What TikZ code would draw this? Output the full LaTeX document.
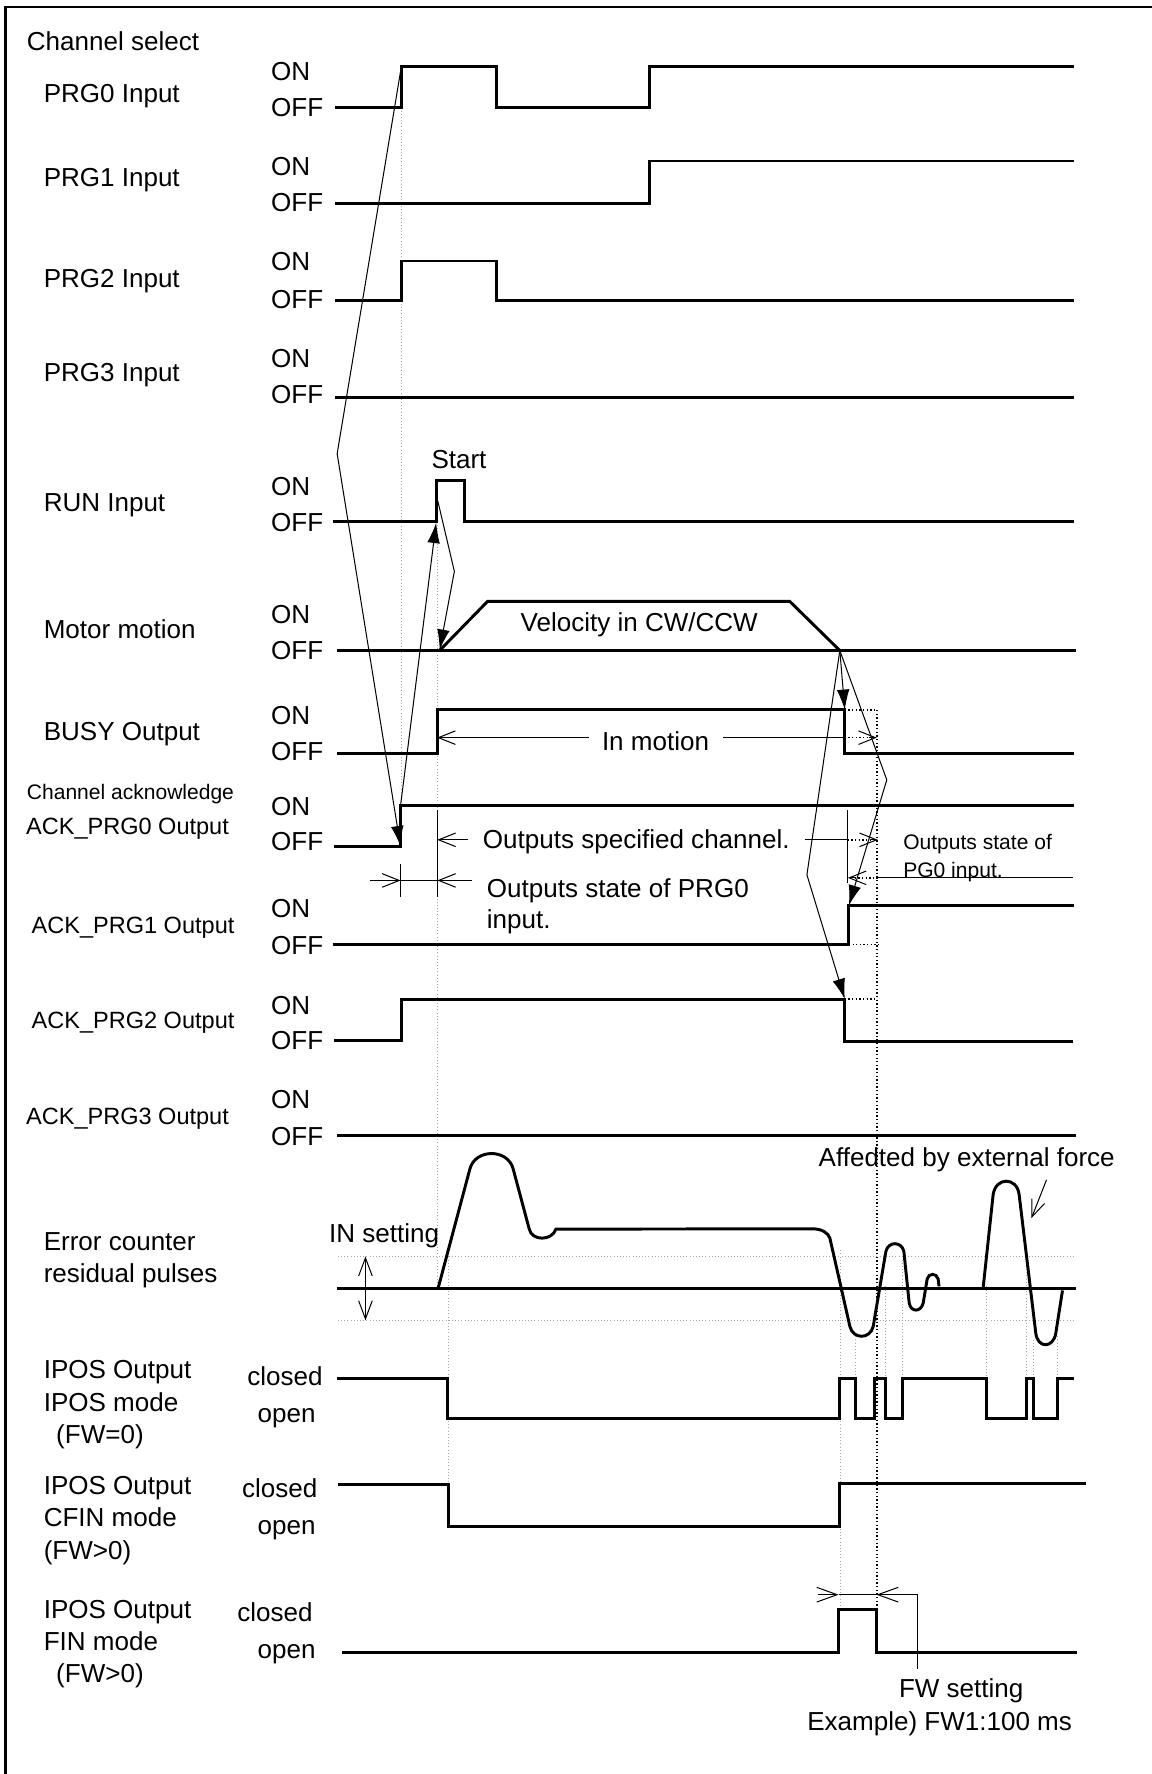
\documentclass[tikz,border=0pt]{standalone}
\usepackage{fontspec}
\setmainfont{Liberation Sans}
\usetikzlibrary{arrows.meta, positioning}

\begin{document}
\begin{tikzpicture}[
  x=0.5pt, y=-0.5pt,
  every node/.style={font=\fontsize{11.5}{13}\selectfont, inner sep=0pt},
  lbl/.style={anchor=base west},
  acklbl/.style={anchor=base west, font=\fontsize{10.4}{12}\selectfont},
  small/.style={font=\fontsize{9.3}{11}\selectfont},
  sig/.style={line width=1.3pt, line join=miter},
  fine/.style={line width=0.45pt},
  guide/.style={line width=0.4pt, gray!70, densely dotted},
  hint/.style={line width=0.6pt, densely dotted},
  cause/.style={fine, -{Latex[length=9pt, width=5.6pt]}},
  barb/.style={fine, -{Straight Barb[length=7.5pt, width=6pt]}},
  bigbarb/.style={fine, -{Straight Barb[length=9pt, width=6.5pt]}}
]
\useasboundingbox (0,0) rectangle (1018,1568);
\draw[line width=1.1pt] (5,1568) -- (5,6) -- (1018,6);

\foreach \nm/\txt/\x/\y in {cs/Channel select/23.4/45, lp0/PRG0 Input/38.3/90.5,
  lp1/PRG1 Input/38.3/165, lp2/PRG2 Input/38.3/254, lp3/PRG3 Input/38.3/337.3,
  lrun/RUN Input/38.3/452.2, lmot/Motor motion/38.3/564.7, lbusy/BUSY Output/38.3/654.6,
  lerr1/Error counter/38.3/1105.3, lerr2/residual pulses/38.3/1133.2,
  li1/IPOS Output/38.3/1218.5, li2/IPOS mode/38.3/1247.5, li3/{(FW=0)}/49.3/1276,
  lc1/IPOS Output/38.3/1321, lc2/CFIN mode/38.3/1349.5, lc3/{(FW>0)}/38.3/1378.5,
  lf1/IPOS Output/38.3/1430.5, lf2/FIN mode/38.3/1458.5, lf3/{(FW>0)}/49.3/1487.5}
  \node[lbl] (\nm) at (\x,\y) {\txt};
\node[lbl, small] (ack) at (23.4,706.3) {Channel acknowledge};
\foreach \nm/\txt/\x/\y in {la0/ACK\_PRG0 Output/22.7/737.9, la1/ACK\_PRG1 Output/27.6/824.8,
  la2/ACK\_PRG2 Output/27.6/908.8, la3/ACK\_PRG3 Output/22.7/994.2}
  \node[acklbl] (\nm) at (\x,\y) {\txt};

\foreach \nm/\on/\off in {p0/62.7/94.9, p1/147.3/179.1, p2/231.2/264.2, p3/316.7/348.5,
  run/429.5/461.9, mot/542.9/574.4, busy/631.9/664.3, a0/712.9/743.8,
  a1/802.7/835.1, a2/888.1/919, a3/972/1004}{
  \node[lbl] (\nm on) at (239.3,\on+8.2) {ON};
  \node[lbl] (\nm off) at (239.3,\off+8.2) {OFF};
}
\foreach \nm/\xc/\yc/\yo in {ipos/218.2/1224.8/1257, cfin/213.6/1324/1356.5, fin/209.4/1433/1465.5}{
  \node[lbl] (\nm cl) at (\xc,\yc) {closed};
  \node[lbl] (\nm op) at (227.3,\yo) {open};
}

\draw[guide] (298.7,1110.5) -- (949,1110.5);
\draw[guide] (298.7,1167) -- (949,1167);
\foreach \x/\ya/\yb in {354.5/95/712.3, 386.5/461/1138.5, 396/1110.5/1312,
  742.5/1105/1422.7, 756.5/1181/1218, 783/1137/1218, 798/1110.5/1218,
  872.3/1137/1218, 907/1110.5/1218, 913.2/1184/1218, 934.3/1181/1218}
  \draw[guide] (\x,\ya) -- (\x,\yb);

\draw[sig] (296,95) -- (355,95) -- (355,58.5) -- (439,58.5) -- (439,95) -- (574,95) -- (574,58.5) -- (949,58.5);
\draw[sig] (296,179.5) -- (574,179.5) -- (574,142.3) -- (949,142.3);
\draw[sig] (296,266) -- (355,266) -- (355,230.7) -- (439,230.7) -- (439,266) -- (949,266);
\draw[sig] (296,351) -- (949,351);
\draw[sig] (294,461) -- (386,461) -- (386,425) -- (410.7,425) -- (410.7,461) -- (949,461);
\draw[sig] (298,575) -- (951,575);
\draw[sig] (388.5,575) -- (431,531.5) -- (698,531.5) -- (742.3,575);
\draw[sig] (298,666) -- (386.5,666) -- (386.5,627.5) -- (746.7,627.5) -- (746.7,666) -- (949,666);
\draw[sig] (295.4,748) -- (354,748) -- (354,712.3) -- (949,712.3);
\draw[sig] (294,835) -- (750.3,835) -- (750.3,800.4) -- (949,800.4);
\draw[sig] (295.4,919.5) -- (354.5,919.5) -- (354.5,883.1) -- (746.7,883.1) -- (746.7,920.5) -- (948,920.5);
\draw[sig] (298,1004) -- (951,1004);
\draw[sig] (298,1138.5) -- (951,1138.5);
\draw[sig] (387.4,1138) -- (415.3,1033.3) .. controls (420,1015) and (449,1015) .. (453.6,1033.3)
  -- (467.8,1086.4) .. controls (470,1097) and (488,1097) .. (491.3,1086.4)
  -- (717.3,1086.1) .. controls (727,1086) and (732,1090) .. (733.5,1094.3)
  -- (751.2,1172.4) .. controls (754,1184) and (769,1184) .. (771.8,1172.4)
  -- (783,1106.1) .. controls (785,1097) and (797,1097) .. (798.9,1106.1)
  -- (803.6,1151.7) .. controls (805,1160) and (814,1160) .. (816,1151.7)
  -- (819.5,1130.5) .. controls (820.5,1125) and (828,1125) .. (829.2,1130.5) -- (830,1137);
\draw[sig] (869,1138) -- (877.8,1056) .. controls (880,1040) and (899,1040) .. (900.8,1056)
  -- (915.5,1178.3) .. controls (917,1192) and (931,1192) .. (933.2,1178.3) -- (939.1,1140.6);
\draw[sig] (297.7,1218) -- (395.5,1218) -- (395.5,1254) -- (742.1,1254) -- (742.1,1218)
  -- (756.4,1218) -- (756.4,1254) -- (773,1254) -- (773,1218) -- (782.3,1218) -- (782.3,1254)
  -- (798,1254) -- (798,1218) -- (871.9,1218) -- (871.9,1254) -- (907.4,1254) -- (907.4,1218)
  -- (913.2,1218) -- (913.2,1254) -- (934.3,1254) -- (934.3,1218) -- (949,1218);
\draw[sig] (298.7,1312) -- (396,1312) -- (396,1349) -- (742.1,1349) -- (742.1,1311) -- (960,1311);
\draw[sig] (302,1460.5) -- (741.2,1460.5) -- (741.2,1422.7) -- (774.6,1422.7) -- (774.6,1460.5) -- (951.5,1460.5);

\coordinate (p0up) at (354.8,58.5);
\coordinate (bendL) at (298,401);
\coordinate (a0low) at (354,748);
\coordinate (a0up) at (354,712.3);
\coordinate (runlow) at (385.5,462);
\coordinate (runtop) at (387,443);
\coordinate (bendR) at (401.6,505);
\coordinate (motstart) at (388.6,574.4);
\coordinate (motend) at (742.3,575);
\coordinate (busyfall) at (746.7,627.5);
\coordinate (bendA) at (783.8,689.3);
\coordinate (a1rise) at (750.3,800.4);
\coordinate (bendB) at (713.2,773.2);
\coordinate (a2fall) at (746.7,883.1);
\draw[cause] (p0up) -- (bendL) -- (a0low);
\draw[cause] (a0up) -- (runlow);
\draw[cause] (runtop) -- (bendR) -- (motstart);
\draw[cause] (motend) -- (busyfall);
\draw[cause] (motend) -- (bendA) -- (a1rise);
\draw[cause] (motend) -- (bendB) -- (a2fall);

\draw[hint] (775,627.5) -- (775,1422.7);
\draw[hint] (746.7,627.5) -- (775,627.5);
\draw[hint] (750.3,835) -- (777,835);
\draw[hint] (746.7,883.1) -- (775,883.1);

\node (vel) at (565,552) {Velocity in CW/CCW};
\node[lbl] (start) at (381,414) {Start};
\node[lbl] (inmot) at (531.7,663.5) {In motion};
\draw[barb] (520.4,652) -- (386.3,652);
\draw[fine] (639,652) -- (746.7,652);
\draw[hint] (746.7,652) -- (769,652);
\draw[barb] (768,652) -- (775,652);

\node[lbl] (spec) at (426.5,750) {Outputs specified channel.};
\draw[fine] (386.5,715.8) -- (386.5,792.4);
\draw[fine] (354,763.5) -- (354,792.4);
\draw[barb] (413.6,742.3) -- (386.5,742.3);
\draw[barb] (327,778.2) -- (354,778.2);
\draw[fine] (354,778.2) -- (386.5,778.2);
\draw[barb] (416.8,778.2) -- (386.5,778.2);
\node[lbl] (st1) at (430,793) {Outputs state of PRG0};
\node[lbl] (st2) at (430,821) {input.};

\draw[fine] (711.4,742.3) -- (749.4,742.3);
\draw[fine] (749.4,715.8) -- (749.4,780.6);
\draw[hint] (749.4,742.3) -- (770,742.3);
\draw[barb] (769,742.3) -- (775.9,742.3);
\node[lbl, small] (pg1) at (798,750.5) {Outputs state of};
\node[lbl, small] (pg2) at (798,775.5) {PG0 input.};
\draw[fine] (948,775.9) -- (775.9,775.9);
\draw[hint] (775.9,775.9) -- (755,775.9);
\draw[barb] (756,775.9) -- (749.4,775.9);

\node[lbl] (inset) at (290.6,1098) {IN setting};
\draw[fine, {Straight Barb[length=8pt, width=6pt]}-{Straight Barb[length=8pt, width=6pt]}] (323,1110.5) -- (323,1167);
\node[lbl] (ext) at (723.2,1030.7) {Affedted by external force};
\draw[barb] (925,1042.8) -- (911.7,1076.6);

\draw[bigbarb] (723,1409.5) -- (741.2,1409.5);
\draw[fine] (741.2,1409.5) -- (774.6,1409.5);
\draw[bigbarb] (811,1409.5) -- (774.6,1409.5);
\draw[fine] (811,1409.5) -- (811,1475.2);
\node[anchor=base] (fw) at (849.6,1500) {FW setting};
\node[anchor=base] (fwex) at (830.5,1529.5) {Example) FW1:100 ms};
\end{tikzpicture}
\end{document}
